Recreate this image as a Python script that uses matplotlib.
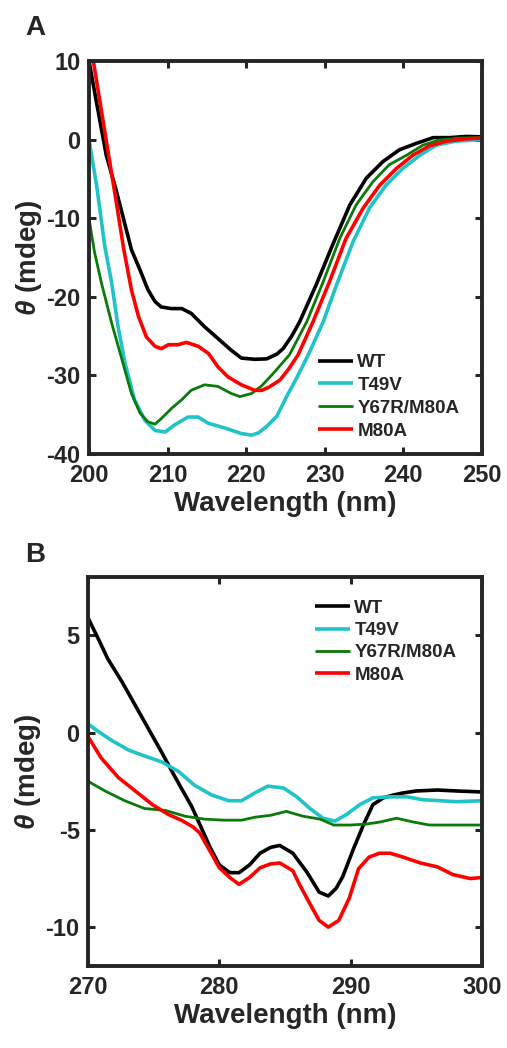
import matplotlib
matplotlib.use("Agg")
import matplotlib.pyplot as plt

plt.rcParams['font.family'] = ['Liberation Sans', 'DejaVu Sans']
plt.rcParams['font.weight'] = 'bold'
plt.rcParams['mathtext.fontset'] = 'custom'
plt.rcParams['mathtext.rm'] = 'Liberation Sans'
plt.rcParams['mathtext.it'] = 'Liberation Sans:italic'
plt.rcParams['axes.unicode_minus'] = False

TXT = '#262626'

# ---------------- Panel A (far-UV) ----------------
wt_a_x = [200.0, 201.0, 202.2, 203.4, 204.4, 205.4, 206.5, 207.5, 208.4, 209.2, 210.5, 211.8, 213.0,
          214.7, 216.4, 218.1, 219.4, 221.1, 222.6, 223.9, 224.7, 225.8, 226.8, 228.9, 231.0, 233.2,
          235.3, 237.4, 239.5, 241.6, 243.8, 245.9, 248.0, 250.0]
wt_a_y = [10.0, 4.5, -2.0, -6.2, -10.1, -14.0, -16.6, -19.1, -20.6, -21.3, -21.5, -21.5, -22.1,
          -23.8, -25.3, -26.8, -27.8, -27.95, -27.9, -27.3, -26.6, -25.0, -23.2, -18.5, -13.4, -8.3,
          -4.9, -2.8, -1.3, -0.5, 0.25, 0.25, 0.4, 0.35]

t49v_a_x = [200.0, 201.0, 202.0, 202.9, 203.7, 204.6, 205.8, 207.1, 208.4, 209.7, 210.9, 212.6, 213.9,
            215.2, 217.3, 219.4, 220.7, 221.6, 222.6, 223.9, 225.2, 226.5, 227.9, 229.8, 231.5, 233.6,
            235.7, 237.8, 239.9, 242.1, 244.2, 246.7, 250.0]
t49v_a_y = [0.0, -6.0, -13.5, -18.3, -23.8, -28.5, -33.1, -35.7, -37.0, -37.2, -36.3, -35.3, -35.3,
            -36.1, -36.7, -37.4, -37.6, -37.3, -36.5, -35.2, -32.6, -30.2, -27.4, -23.2, -18.5, -13.0,
            -8.7, -5.8, -3.7, -2.0, -0.7, -0.2, 0.0]

y67r_a_x = [200.0, 200.7, 201.6, 202.9, 204.2, 205.4, 206.5, 207.5, 208.4, 209.2, 210.5, 211.8, 213.0,
            214.7, 216.4, 218.1, 219.2, 220.7, 222.0, 223.4, 225.5, 227.7, 229.8, 231.9, 234.0, 236.1,
            238.2, 240.4, 242.5, 244.6, 247.1, 250.0]
y67r_a_y = [-10.0, -14.3, -18.3, -23.4, -28.0, -32.3, -34.8, -35.9, -36.2, -35.5, -34.2, -33.1, -31.9,
            -31.2, -31.4, -32.3, -32.7, -32.3, -31.3, -29.8, -27.4, -23.2, -18.1, -12.6, -8.3, -5.4,
            -3.2, -2.0, -0.7, -0.05, 0.2, 0.25]

m80a_a_x = [200.55, 201.5, 202.5, 203.4, 204.4, 205.4, 206.3, 207.3, 208.4, 209.2, 210.1, 211.3, 212.4,
            213.9, 215.2, 216.4, 217.7, 219.4, 221.1, 222.0, 222.9, 224.3, 225.4, 226.6, 228.5, 230.6,
            232.7, 234.9, 237.0, 239.1, 241.2, 243.3, 245.5, 248.0, 250.0]
m80a_a_y = [10.0, 4.2, -2.0, -7.5, -13.8, -19.1, -22.5, -25.1, -26.3, -26.6, -26.1, -26.1, -25.8,
            -26.3, -27.2, -28.9, -30.2, -31.2, -31.9, -31.9, -31.5, -30.6, -29.2, -27.4, -23.2, -18.1,
            -12.6, -8.7, -5.8, -3.7, -2.0, -0.8, -0.2, 0.1, 0.2]

# ---------------- Panel B (near-UV) ----------------
wt_b_x = [270.0, 270.8, 271.5, 272.6, 273.6, 274.6, 275.6, 276.4, 277.1, 277.9, 278.5, 279.3, 280.0,
          280.8, 281.5, 282.3, 283.1, 283.9, 284.6, 285.6, 286.7, 287.6, 288.3, 288.9, 289.4, 290.2,
          291.0, 291.7, 292.5, 293.3, 294.0, 295.0, 296.6, 298.1, 300.0]
wt_b_y = [5.9, 4.8, 3.8, 2.6, 1.4, 0.2, -1.0, -2.0, -2.85, -3.8, -4.7, -5.9, -6.8,
          -7.2, -7.2, -6.8, -6.2, -5.9, -5.8, -6.2, -7.2, -8.2, -8.4, -8.0, -7.4, -6.0,
          -4.7, -3.7, -3.35, -3.2, -3.1, -3.0, -2.95, -3.0, -3.05]

t49v_b_x = [270.0, 270.8, 271.8, 273.1, 274.3, 275.6, 276.9, 278.1, 279.4, 280.7, 281.7, 282.7, 283.7,
            284.9, 285.9, 286.9, 287.9, 288.8, 289.7, 290.7, 291.7, 293.0, 294.3, 295.5, 296.8, 298.1,
            300.0]
t49v_b_y = [0.45, 0.05, -0.4, -0.9, -1.2, -1.5, -2.0, -2.7, -3.2, -3.5, -3.5, -3.1, -2.75,
            -2.85, -3.3, -3.9, -4.4, -4.55, -4.2, -3.7, -3.35, -3.3, -3.3, -3.45, -3.5, -3.55,
            -3.5]

y67r_b_x = [270.0, 271.3, 272.8, 274.3, 275.9, 277.4, 278.9, 280.4, 281.7, 282.7, 283.9, 285.1, 286.4,
            287.7, 288.7, 290.0, 291.2, 292.2, 293.5, 294.8, 296.0, 297.3, 298.6, 300.0]
y67r_b_y = [-2.5, -3.0, -3.5, -3.9, -4.0, -4.3, -4.45, -4.5, -4.5, -4.35, -4.25, -4.05, -4.3,
            -4.45, -4.75, -4.75, -4.7, -4.6, -4.4, -4.6, -4.75, -4.75, -4.75, -4.75]

m80a_b_x = [270.0, 271.0, 272.3, 273.6, 274.9, 276.1, 277.1, 278.0, 278.5, 279.3, 280.0, 280.8, 281.5,
            282.3, 283.1, 283.9, 284.6, 285.6, 286.1, 286.9, 287.6, 288.3, 289.1, 289.9, 290.6, 291.4,
            292.2, 293.0, 294.0, 295.3, 296.6, 297.8, 299.1, 300.0]
m80a_b_y = [-0.2, -1.3, -2.3, -3.0, -3.7, -4.2, -4.5, -4.85, -5.15, -6.1, -6.95, -7.45, -7.8,
            -7.45, -6.95, -6.75, -6.7, -7.1, -7.8, -8.8, -9.65, -10.0, -9.65, -8.5, -7.0, -6.4,
            -6.2, -6.2, -6.4, -6.7, -6.9, -7.3, -7.5, -7.45]

labels = ['WT', 'T49V', 'Y67R/M80A', 'M80A']
colors = ['#000000', '#1fc3c8', '#0a7a0a', '#ff0000']
widths = [2.6, 2.6, 2.0, 2.6]

xticks_a = [200, 210, 220, 230, 240, 250]
yticks_a = [-40, -30, -20, -10, 0, 10]
xticks_b = [270, 280, 290, 300]
yticks_b = [-10, -5, 0, 5]

fig = plt.figure(figsize=(5.07, 10.48), dpi=100)
axA = fig.add_axes([0.1755, 0.5668, 0.775, 0.375])
axB = fig.add_axes([0.1736, 0.0782, 0.777, 0.3712])

series_a = [(wt_a_x, wt_a_y), (t49v_a_x, t49v_a_y), (y67r_a_x, y67r_a_y), (m80a_a_x, m80a_a_y)]
series_b = [(wt_b_x, wt_b_y), (t49v_b_x, t49v_b_y), (y67r_b_x, y67r_b_y), (m80a_b_x, m80a_b_y)]


def style(ax, xlim, ylim, xt, yt):
    ax.set_xlim(*xlim)
    ax.set_ylim(*ylim)
    ax.set_xticks(xt)
    ax.set_yticks(yt)
    ax.tick_params(direction='in', length=5, width=2.2, top=True, right=True,
                   labelsize=17, colors=TXT, pad=7)
    ax.tick_params(axis='y', pad=6)
    for lab in ax.get_xticklabels() + ax.get_yticklabels():
        lab.set_fontweight('bold')
    for s in ax.spines.values():
        s.set_linewidth(2.8)
        s.set_color(TXT)
    ax.set_xlabel('Wavelength (nm)', fontsize=20, fontweight='bold', color=TXT, labelpad=3)
    ax.set_ylabel(r'$\theta$ (mdeg)', fontsize=20, fontweight='bold', color=TXT, labelpad=2)


for ax, series in ((axA, series_a), (axB, series_b)):
    for (x, y), lab, c, w in zip(series, labels, colors, widths):
        ax.plot(x, y, color=c, lw=w, label=lab, solid_capstyle='butt')

style(axA, (200, 250), (-40, 10), xticks_a, yticks_a)
style(axB, (270, 300), (-12, 8), xticks_b, yticks_b)

leg_kw = dict(frameon=False, fontsize=13.5, handlelength=1.85, handletextpad=0.25,
              borderpad=0, borderaxespad=0, loc='upper left')
legA = axA.legend(bbox_to_anchor=(0.583, 0.254), labelspacing=0.3, **leg_kw)
legB = axB.legend(bbox_to_anchor=(0.576, 0.942), labelspacing=0.28, **leg_kw)
for leg in (legA, legB):
    for t in leg.get_texts():
        t.set_fontweight('bold')
        t.set_color(TXT)

fig.text(25 / 507, 1 - 35 / 1048, 'A', fontsize=20, fontweight='bold', color=TXT, va='baseline')
fig.text(25 / 507, 1 - 562 / 1048, 'B', fontsize=20, fontweight='bold', color=TXT, va='baseline')

fig.savefig('out.png', dpi=100, facecolor='white')
